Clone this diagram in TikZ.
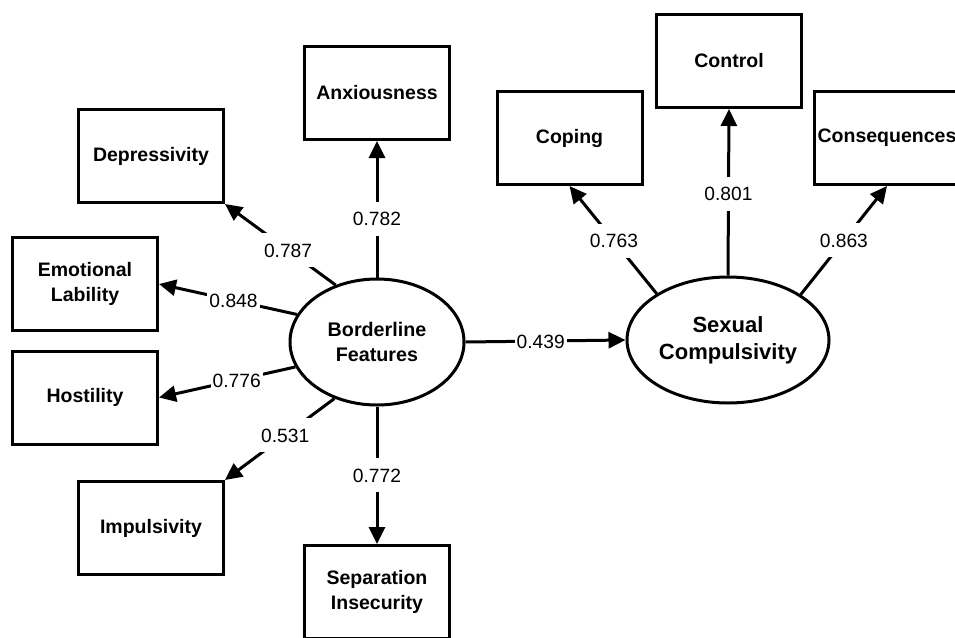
\documentclass[tikz,border=0pt]{standalone}
\usepackage{fontspec}
\setmainfont{Liberation Sans}
\usetikzlibrary{arrows.meta,shapes.geometric}
\begin{document}
\begin{tikzpicture}[x=1pt,y=-1pt,
  box/.style={draw, line width=3pt, minimum width=145pt, minimum height=93pt, align=center, inner sep=0pt, font=\fontsize{19.5}{24.5}\selectfont\bfseries},
  latent/.style={draw, ellipse, line width=3pt, align=center, inner sep=0pt},
  conn/.style={line width=3pt, -{Triangle[length=17pt,width=16pt]}},
  lbl/.style={fill=white, inner xsep=2pt, inner ysep=10pt, text height=14pt, text depth=0pt, font=\fontsize{19.2}{22}\selectfont}]
\useasboundingbox[fill=white] (0,0) rectangle (955,637);

\node[latent, minimum width=174pt, minimum height=126pt, font=\fontsize{19.7}{24.5}\selectfont\bfseries] (bf) at (377,342) {Borderline\\Features};
\node[latent, minimum width=202pt, minimum height=126pt, font=\fontsize{22}{27}\selectfont\bfseries] (sc) at (728,340) {Sexual\\Compulsivity};

\node[box] (anx) at (377,93) {Anxiousness};
\node[box] (dep) at (151,156) {Depressivity};
\node[box] (el) at (85,284) {Emotional\\Lability};
\node[box] (hos) at (85,397.5) {Hostility};
\node[box] (imp) at (151,528) {Impulsivity};
\node[box] (sep) at (377,592) {Separation\\Insecurity};
\node[box] (cop) at (569.5,138) {Coping};
\node[box] (con) at (729,61) {Control};
\node[box] (cons) at (887,138) {Consequences};

\draw[conn] (bf.90) -- node[lbl,pos=0.43]{0.782} (anx.south);
\draw[conn] (bf.126) -- node[lbl,pos=0.43]{0.787} (dep.south east);
\draw[conn] (bf.161) -- node[lbl,pos=0.46]{0.848} (el.east);
\draw[conn] (bf.197) -- node[lbl,pos=0.43]{0.776} (hos.east);
\draw[conn] (bf.233) -- node[lbl,pos=0.45]{0.531} (imp.north east);
\draw[conn] (bf.south) -- node[lbl,pos=0.5]{0.772} (sep.north);
\draw[conn] (bf.east) -- node[lbl,pos=0.47]{0.439} (sc.west);
\draw[conn] (sc.147) -- node[lbl,pos=0.49]{0.763} (cop.south);
\draw[conn] (sc.north) -- node[lbl,pos=0.49]{0.801} (con.south);
\draw[conn] (sc.32) -- node[lbl,pos=0.5]{0.863} (cons.south);
\end{tikzpicture}
\end{document}
